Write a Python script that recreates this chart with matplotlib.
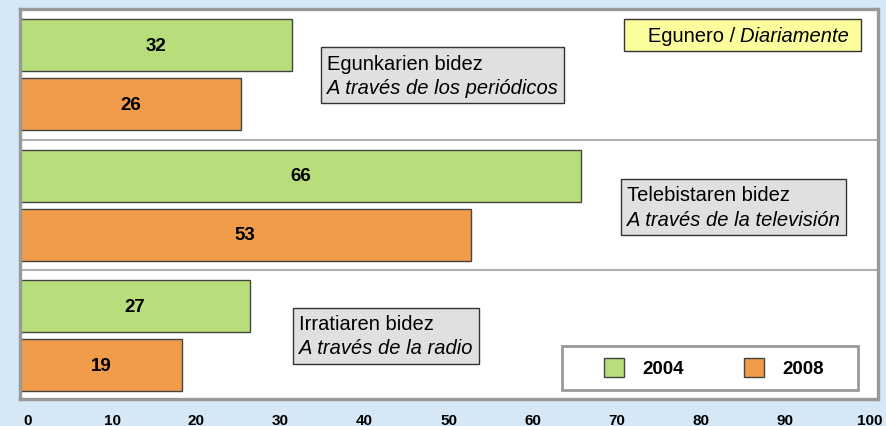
import numpy as np
import matplotlib
matplotlib.use("Agg")
import matplotlib.pyplot as plt
from matplotlib.patches import Patch, Rectangle
from matplotlib.offsetbox import TextArea, VPacker, HPacker, AnnotationBbox

plt.rcParams['font.family'] = ['Liberation Sans', 'DejaVu Sans']

# data
labels_eu = ["Egunkarien bidez", "Telebistaren bidez", "Irratiaren bidez"]
labels_es = ["A través de los periódicos", "A través de la televisión", "A través de la radio"]
years = ["2004", "2008"]
values_2004 = [32, 66, 27]
values_2008 = [26, 53, 19]
xticks = [0, 10, 20, 30, 40, 50, 60, 70, 80, 90, 100]

col_2004 = "#b8dd7b"
col_2008 = "#f09c4a"
bg = "#d6e7f5"

fig = plt.figure(figsize=(8.86, 4.27), dpi=100, facecolor=bg)
ax = fig.add_axes([20/886, 27/427, 858/886, 390/427])
ax.set_facecolor("white")

g = np.arange(len(values_2004))
off = 0.227
h = 0.40
b1 = ax.barh(g - off, values_2004, height=h, color=col_2004, edgecolor="#444444", lw=1)
b2 = ax.barh(g + off, values_2008, height=h, color=col_2008, edgecolor="#444444", lw=1)

for bars in (b1, b2):
    for r in bars:
        ax.text(r.get_width() / 2, r.get_y() + r.get_height() / 2, "%d" % r.get_width(),
                ha="center", va="center", fontsize=13.5, fontweight="bold")

# separators between groups
for yy in (0.5, 1.5):
    ax.axhline(yy, color="#b0b0b0", lw=1.5)

ax.set_xlim(0, 100.9)
ax.set_ylim(2.485, -0.504)
ax.set_yticks([])
ax.set_xticks([])
for s in ax.spines.values():
    s.set_color("#999999")
    s.set_linewidth(2.4)

# tick labels in the original sit on a slightly different scale than the bars
def fwd(v):
    return (8.5 * v - 8.0) / 8.41

def inv(s):
    return (8.41 * s + 8.0) / 8.5

sec = ax.secondary_xaxis("bottom", functions=(fwd, inv))
sec.set_xticks(xticks)
sec.set_xticklabels([str(t) for t in xticks], fontsize=11, fontweight="bold")
sec.tick_params(axis="x", length=0, pad=10)
sec.spines["bottom"].set_visible(False)

# category boxes
box_x = [36.1, 71.4, 32.8]
box_y = [0.004, 1.015, 2.0]
for i in range(len(labels_eu)):
    t1 = TextArea(labels_eu[i], textprops=dict(fontsize=14.5))
    t2 = TextArea(labels_es[i], textprops=dict(fontsize=14.5, style="italic"))
    pk = VPacker(children=[t1, t2], align="left", pad=0, sep=4)
    ab = AnnotationBbox(pk, (box_x[i], box_y[i]), xycoords="data", box_alignment=(0, 0.5),
                        frameon=True, pad=0.45,
                        bboxprops=dict(facecolor="#e0e0e0", edgecolor="#333333", lw=1))
    ax.add_artist(ab)

# yellow header box
ta = TextArea("   Egunero / ", textprops=dict(fontsize=14.5))
tb = TextArea("Diariamente ", textprops=dict(fontsize=14.5, style="italic"))
hp = HPacker(children=[ta, tb], align="baseline", pad=0, sep=0)
ab = AnnotationBbox(hp, (71.8, -0.304), xycoords="data", box_alignment=(0, 0.5),
                    frameon=True, pad=0.45,
                    bboxprops=dict(facecolor="#fdfd9e", edgecolor="#333333", lw=1))
ax.add_artist(ab)

# legend with its own frame
ax.add_patch(Rectangle((542/858, (400-391)/390), 296/858, 44/390, transform=ax.transAxes,
                       facecolor="white", edgecolor="#999999", lw=2, zorder=4))
handles = [Patch(facecolor=col_2004, edgecolor="#444444"),
           Patch(facecolor=col_2008, edgecolor="#444444")]
leg = ax.legend(handles, years, ncol=2, frameon=False, loc="center",
                bbox_to_anchor=(694/858, (400-368.5)/390),
                prop=dict(size=13.5, weight="bold"), handlelength=1.05, handleheight=1.2,
                handletextpad=1.0, columnspacing=3.2)
leg.set_zorder(5)

fig.savefig("out.png", dpi=100, facecolor=bg)
